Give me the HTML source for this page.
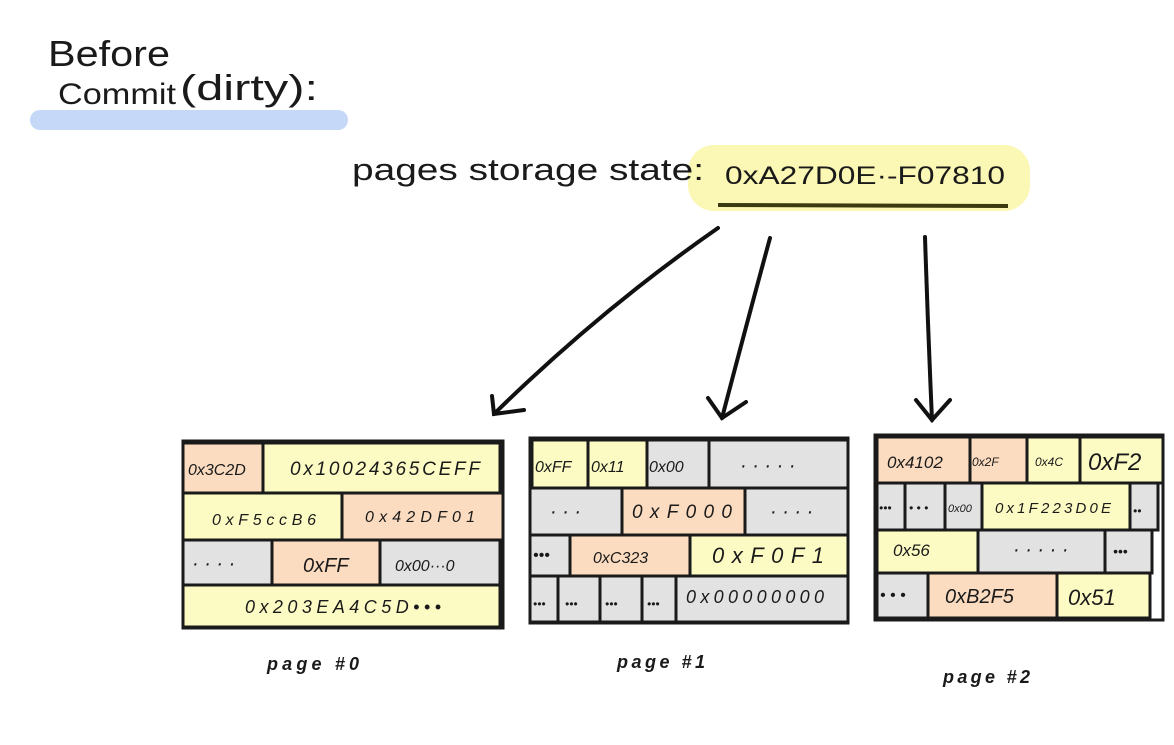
<!DOCTYPE html>
<html><head><meta charset="utf-8"><style>
html,body{margin:0;padding:0;background:#fff;}
svg text{font-family:"Liberation Sans",sans-serif;fill:#1a1a1a;font-style:italic;}
</style></head><body>
<svg width="1174" height="740" viewBox="0 0 1174 740" xmlns="http://www.w3.org/2000/svg">
<rect x="0" y="0" width="1174" height="740" fill="#fff"/>
<rect x="30" y="110" width="318" height="20" rx="10" fill="#c5d8f7"/>
<text x="48" y="66" font-size="36" style="font-style:normal" textLength="122" lengthAdjust="spacingAndGlyphs">Before</text>
<text x="58" y="104" font-size="30" style="font-style:normal" textLength="118" lengthAdjust="spacingAndGlyphs">Commit</text>
<text x="180" y="100" font-size="36" style="font-style:normal" textLength="138" lengthAdjust="spacingAndGlyphs">(dirty):</text>
<rect x="688" y="145" width="342" height="66" rx="26" fill="#fbf7b4"/>
<text x="352" y="180" font-size="31" style="font-style:normal" textLength="352" lengthAdjust="spacingAndGlyphs">pages storage state:</text>
<text x="725" y="184" font-size="25" style="font-style:normal" textLength="280" lengthAdjust="spacingAndGlyphs">0xA27D0E·-F07810</text>
<line x1="718" y1="205" x2="1008" y2="206" stroke="#3b3a10" stroke-width="4"/>
<g stroke="#111" stroke-width="4" fill="none" stroke-linecap="round">
<path d="M718 228 Q600 310 494 414"/>
<path d="M492 396 L494 414 L524 410"/>
<path d="M770 238 Q745 330 722 418"/>
<path d="M708 398 L722 418 L746 402"/>
<path d="M925 237 Q928 330 932 420"/>
<path d="M916 400 L932 420 L950 400"/>
</g>
<g stroke="#1a1a1a" stroke-width="3">
<rect x="183" y="443" width="80" height="50" fill="#fbdcc0"/>
<rect x="263" y="443" width="237" height="50" fill="#fdfbc4"/>
<rect x="183" y="493" width="159" height="47" fill="#fdfbc4"/>
<rect x="342" y="493" width="161" height="47" fill="#fbdcc0"/>
<rect x="183" y="540" width="89" height="45" fill="#e2e2e2"/>
<rect x="272" y="540" width="108" height="45" fill="#fbdcc0"/>
<rect x="380" y="540" width="120" height="45" fill="#e2e2e2"/>
<rect x="183" y="585" width="317" height="42" fill="#fdfbc4"/>
<rect x="183" y="441" width="320" height="187" fill="none"/>
<rect x="532" y="440" width="56" height="48" fill="#fdfbc4"/>
<rect x="588" y="440" width="59" height="48" fill="#fdfbc4"/>
<rect x="647" y="440" width="62" height="48" fill="#e2e2e2"/>
<rect x="709" y="440" width="139" height="48" fill="#e2e2e2"/>
<rect x="530" y="488" width="92" height="47" fill="#e2e2e2"/>
<rect x="622" y="488" width="123" height="47" fill="#fbdcc0"/>
<rect x="745" y="488" width="103" height="47" fill="#e2e2e2"/>
<rect x="530" y="535" width="40" height="41" fill="#e2e2e2"/>
<rect x="570" y="535" width="120" height="41" fill="#fbdcc0"/>
<rect x="690" y="535" width="158" height="41" fill="#fdfbc4"/>
<rect x="530" y="576" width="28" height="46" fill="#e2e2e2"/>
<rect x="558" y="576" width="42" height="46" fill="#e2e2e2"/>
<rect x="600" y="576" width="42" height="46" fill="#e2e2e2"/>
<rect x="642" y="576" width="34" height="46" fill="#e2e2e2"/>
<rect x="676" y="576" width="172" height="46" fill="#e2e2e2"/>
<rect x="530" y="438" width="318" height="185" fill="none"/>
<rect x="877" y="437" width="93" height="46" fill="#fbdcc0"/>
<rect x="970" y="437" width="57" height="46" fill="#fbdcc0"/>
<rect x="1027" y="437" width="53" height="46" fill="#fdfbc4"/>
<rect x="1080" y="437" width="83" height="46" fill="#fdfbc4"/>
<rect x="877" y="483" width="28" height="47" fill="#e2e2e2"/>
<rect x="905" y="483" width="40" height="47" fill="#e2e2e2"/>
<rect x="945" y="483" width="37" height="47" fill="#e2e2e2"/>
<rect x="982" y="483" width="148" height="47" fill="#fdfbc4"/>
<rect x="1130" y="483" width="28" height="47" fill="#e2e2e2"/>
<rect x="877" y="530" width="101" height="43" fill="#fdfbc4"/>
<rect x="978" y="530" width="127" height="43" fill="#e2e2e2"/>
<rect x="1105" y="530" width="47" height="43" fill="#e2e2e2"/>
<rect x="877" y="573" width="51" height="45" fill="#e2e2e2"/>
<rect x="928" y="573" width="129" height="45" fill="#fbdcc0"/>
<rect x="1057" y="573" width="93" height="45" fill="#fdfbc4"/>
<rect x="875" y="435" width="288" height="185" fill="none"/>
</g>
<g font-size="16">
<text x="188" y="475">0x3C2D</text>
<text x="290" y="475" font-size="19" textLength="190">0x10024365CEFF</text>
<text x="212" y="525" textLength="104">0xF5ccB6</text>
<text x="365" y="522" textLength="110">0x42DF01</text>
<text x="192" y="570" font-size="20">· · · ·</text>
<text x="303" y="572" font-size="20">0xFF</text>
<text x="395" y="571">0x00···0</text>
<text x="245" y="613" font-size="18" textLength="196">0x203EA4C5D•••</text>
<text x="535" y="472">0xFF</text>
<text x="591" y="472">0x11</text>
<text x="649" y="472">0x00</text>
<text x="740" y="472" font-size="20">· · · · ·</text>
<text x="550" y="518" font-size="20">· · ·</text>
<text x="632" y="518" font-size="19" textLength="100">0xF000</text>
<text x="770" y="518" font-size="20">· · · ·</text>
<text x="533" y="560" font-size="16">•••</text>
<text x="593" y="563">0xC323</text>
<text x="712" y="563" font-size="22" textLength="112">0xF0F1</text>
<text x="533" y="608" font-size="12">•••</text>
<text x="565" y="608" font-size="12">•••</text>
<text x="605" y="608" font-size="12">•••</text>
<text x="647" y="608" font-size="12">•••</text>
<text x="686" y="603" font-size="18" textLength="138">0x00000000</text>
<text x="887" y="468" font-size="17">0x4102</text>
<text x="972" y="466" font-size="12">0x2F</text>
<text x="1035" y="466" font-size="12">0x4C</text>
<text x="1088" y="470" font-size="24">0xF2</text>
<text x="879" y="512" font-size="12">•••</text>
<text x="909" y="512" font-size="12">• • •</text>
<text x="948" y="512" font-size="11">0x00</text>
<text x="995" y="513" font-size="15" textLength="116">0x1F223D0E</text>
<text x="1133" y="515" font-size="12">••</text>
<text x="893" y="556" font-size="17">0x56</text>
<text x="1013" y="556" font-size="20">· · · · ·</text>
<text x="1113" y="556" font-size="14">•••</text>
<text x="880" y="600" font-size="16">• • •</text>
<text x="945" y="603" font-size="20">0xB2F5</text>
<text x="1068" y="605" font-size="22">0x51</text>
</g>
<g font-size="18" font-weight="bold">
<text x="267" y="670" textLength="92">page #0</text>
<text x="617" y="668" textLength="88">page #1</text>
<text x="943" y="683" textLength="87">page #2</text>
</g>
</svg>
</body></html>
